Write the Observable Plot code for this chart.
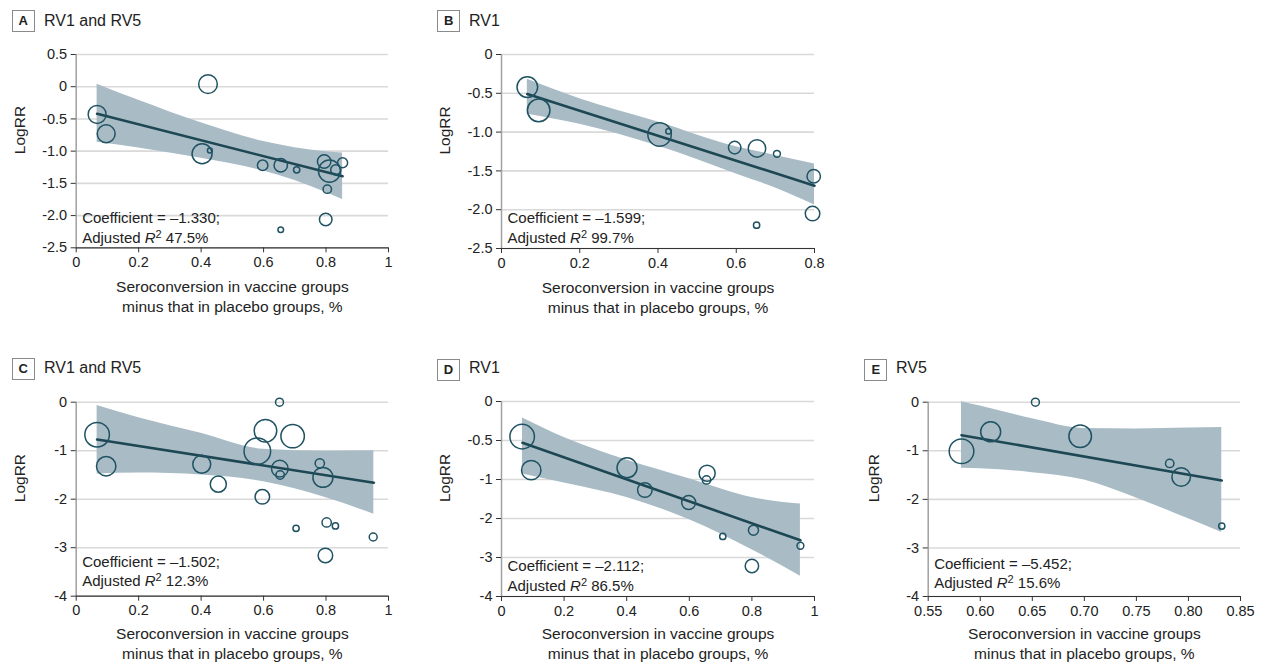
<!DOCTYPE html>
<html><head><meta charset="utf-8">
<script src="https://cdn.jsdelivr.net/npm/d3@7"></script>
<script src="https://cdn.jsdelivr.net/npm/@observablehq/plot@0.6"></script>
<style>
body{margin:0;background:#fff;width:1265px;height:669px;overflow:hidden;position:relative;font-family:"Liberation Sans",Arial,sans-serif;color:#222}
.panel{position:absolute}
.tag{position:absolute;width:21px;height:20px;border:1.3px solid #8a8a8a;font-weight:bold;font-size:13px;text-align:center;line-height:20px;color:#222}
.ttl{position:absolute;font-size:16px;color:#222;line-height:20px}
</style></head><body>
<script>
// ---------- data ----------
const panelIds = ["A","B","C","D","E"];
const panelTitles = ["RV1 and RV5","RV1","RV1 and RV5","RV1","RV5"];
const coefTexts = ["–1.330","–1.599","–1.502","–2.112","–5.452"];
const r2Texts = ["47.5%","99.7%","12.3%","86.5%","15.6%"];
const xTitleLines = ["Seroconversion in vaccine groups","minus that in placebo groups, %"];
const yTitle = "LogRR";

// Panel A
const aX = [0.067,0.096,0.422,0.403,0.428,0.597,0.655,0.706,0.794,0.811,0.831,0.853,0.804,0.799,0.655];
const aY = [-0.43,-0.73,0.04,-1.04,-0.99,-1.22,-1.22,-1.29,-1.16,-1.31,-1.29,-1.18,-1.59,-2.06,-2.22];
const aW = [41,41,44,51,3,14,23,5,23,62,13,13,9,20,4];
const aFitX = [0.067,0.853], aFitY = [-0.42,-1.39];
const aBandX = [0.067,0.2,0.4,0.6,0.8,0.853];
const aBandHi = [0.04,-0.21,-0.56,-0.85,-1.01,-1.03];
const aBandLo = [-0.86,-0.95,-1.11,-1.31,-1.64,-1.75];
const aXTicks = [0,0.2,0.4,0.6,0.8,1];
const aYTicks = [0.5,0,-0.5,-1,-1.5,-2,-2.5];

// Panel B
const bX = [0.066,0.095,0.404,0.427,0.596,0.653,0.704,0.798,0.795,0.652];
const bY = [-0.42,-0.72,-1.03,-0.99,-1.20,-1.21,-1.28,-1.57,-2.05,-2.20];
const bW = [54,65,70,4,20,39,6,23,27,5];
const bFitX = [0.066,0.8], bFitY = [-0.51,-1.69];
const bBandX = [0.066,0.2,0.4,0.6,0.7,0.8];
const bBandHi = [-0.32,-0.57,-0.87,-1.19,-1.30,-1.41];
const bBandLo = [-0.77,-0.90,-1.18,-1.54,-1.72,-1.94];
const bXTicks = [0,0.2,0.4,0.6,0.8];
const bYTicks = [0,-0.5,-1,-1.5,-2,-2.5];

// Panel C
const cX = [0.067,0.096,0.402,0.455,0.596,0.580,0.606,0.651,0.693,0.652,0.653,0.780,0.790,0.802,0.830,0.704,0.951,0.798];
const cY = [-0.67,-1.32,-1.28,-1.69,-1.95,-1.01,-0.59,0.00,-0.70,-1.37,-1.50,-1.26,-1.55,-2.48,-2.55,-2.60,-2.78,-3.16];
const cW = [77,48,41,33,27,90,65,8,70,35,9,11,51,11,5,5,8,27];
const cFitX = [0.067,0.953], cFitY = [-0.77,-1.66];
const cBandX = [0.067,0.2,0.4,0.6,0.8,0.953];
const cBandHi = [-0.07,-0.32,-0.64,-0.97,-1.01,-1.00];
const cBandLo = [-1.48,-1.46,-1.50,-1.64,-1.97,-2.31];
const cXTicks = [0,0.2,0.4,0.6,0.8,1];
const cYTicks = [0,-1,-2,-3,-4];

// Panel D (axis labelled 0, -0.5, -1, -2, -3, -4 at equal spacing)
const dX = [0.066,0.095,0.401,0.458,0.598,0.657,0.655,0.707,0.805,0.800,0.955];
const dY = [-0.45,-0.88,-0.85,-1.27,-1.59,-0.92,-1.01,-2.46,-2.30,-3.22,-2.70];
const dW = [77,48,51,27,25,33,9,5,13,23,6];
const dFitX = [0.067,0.955], dFitY = [-0.53,-2.56];
const dBandX = [0.067,0.2,0.4,0.6,0.8,0.955];
const dBandHi = [-0.21,-0.46,-0.75,-0.99,-1.46,-1.63];
const dBandLo = [-0.93,-1.09,-1.46,-2.03,-2.80,-3.48];
const dXTicks = [0,0.2,0.4,0.6,0.8,1];
const dYTicks = [0,-0.5,-1,-2,-3,-4];

// Panel E
const eX = [0.582,0.610,0.653,0.696,0.782,0.793,0.832];
const eY = [-1.01,-0.61,0.00,-0.70,-1.26,-1.54,-2.55];
const eW = [77,51,8,65,9,44,5];
const eFitX = [0.582,0.832], eFitY = [-0.68,-1.61];
const eBandX = [0.582,0.60,0.65,0.70,0.75,0.80,0.832];
const eBandHi = [0.01,-0.08,-0.34,-0.54,-0.55,-0.53,-0.52];
const eBandLo = [-1.36,-1.37,-1.45,-1.60,-1.97,-2.40,-2.68];
const eXTicks = [0.55,0.60,0.65,0.70,0.75,0.80,0.85];
const eYTicks = [0,-1,-2,-3,-4];

// ---------- styles ----------
const FONT = '"Liberation Sans",Arial,sans-serif';
const DOT = "#1f5262", FIT = "#1d4753", BAND = "#a9bcc6", GRID = "#d9d9d9", AXIS = "#333";

function statsMark(coef, r2, off) {
  return (index, scales, values, dims) => {
    const ns = "http://www.w3.org/2000/svg";
    const g = document.createElementNS(ns, "g");
    g.setAttribute("font-size", "15");
    g.setAttribute("fill", "#222");
    g.setAttribute("text-anchor", "start");
    const x = dims.marginLeft + 6.5;
    const yb = dims.height - dims.marginBottom;
    const t1 = document.createElementNS(ns, "text");
    t1.setAttribute("x", x); t1.setAttribute("y", yb - off); t1.setAttribute("dy", "0.35em");
    t1.textContent = "Coefficient = " + coef + ";";
    const t2 = document.createElementNS(ns, "text");
    t2.setAttribute("x", x); t2.setAttribute("y", yb - off + 19.5); t2.setAttribute("dy", "0.35em");
    const s1 = document.createElementNS(ns, "tspan"); s1.textContent = "Adjusted ";
    const s2 = document.createElementNS(ns, "tspan"); s2.textContent = "R"; s2.setAttribute("font-style", "italic");
    const s3 = document.createElementNS(ns, "tspan"); s3.textContent = "2"; s3.setAttribute("font-size", "11"); s3.setAttribute("dy", "-5");
    const s4 = document.createElementNS(ns, "tspan"); s4.textContent = " " + r2; s4.setAttribute("dy", "5");
    t2.append(s1, s2, s3, s4);
    g.append(t1, t2);
    return g;
  };
}

function makePanel(o) {
  const pts = o.xs.map((x, i) => ({x, y: o.ys[i], w: o.ws[i]}));
  const band = o.bandX.map((x, i) => ({x, lo: o.bandLo[i], hi: o.bandHi[i]}));
  const fit = o.fitX.map((x, i) => ({x, y: o.fitY[i]}));
  const H = o.height, mt = o.mt, mb = o.mb;
  const ph = H - mt - mb;
  const yScale = o.piecewise
    ? {type: "linear", domain: o.yTicks, range: o.yTicks.map((_, i) => mt + i * ph / (o.yTicks.length - 1))}
    : {type: "linear", domain: [d3.min(o.yTicks), d3.max(o.yTicks)]};
  const xMin = d3.min(o.xTicks), xMax = d3.max(o.xTicks);
  const yMin = d3.min(o.yTicks);
  return Plot.plot({
    width: o.width, height: H,
    marginLeft: o.ml, marginRight: o.mr, marginTop: mt, marginBottom: mb,
    x: {type: "linear", domain: [xMin, xMax]},
    y: yScale,
    r: {type: "sqrt", domain: [0, 100], range: [0, 14]},
    style: {fontFamily: FONT, fontSize: "14.5px", color: "#222", background: "transparent", overflow: "visible"},
    marks: [
      Plot.gridY(o.yTicks, {stroke: GRID, strokeOpacity: 1, strokeWidth: 1.6}),
      Plot.ruleX([xMin], {stroke: "#a0a0a0", strokeWidth: 1.5}),
      Plot.ruleY([yMin], {stroke: AXIS, strokeWidth: 1.2}),
      Plot.axisY({ticks: o.yTicks, tickFormat: o.yFmt, tickSize: 5, tickPadding: 4, stroke: AXIS, label: null, fontSize: 14.5}),
      Plot.axisX({ticks: o.xTicks, tickFormat: o.xFmt, tickSize: 5, tickPadding: 4, stroke: AXIS, label: null, fontSize: 14.5}),
      Plot.areaY(band, {x: "x", y1: "lo", y2: "hi", fill: BAND, fillOpacity: 1, curve: "monotone-x"}),
      Plot.line(fit, {x: "x", y: "y", stroke: FIT, strokeWidth: 2.6}),
      Plot.dot(pts, {x: "x", y: "y", r: "w", stroke: DOT, strokeWidth: 1.5, fill: "none"}),
      Plot.text([yTitle], {text: d => d, frameAnchor: "left", rotate: -90, dx: o.ylx, dy: 3, fontSize: 15.5}),
      Plot.text([xTitleLines[0]], {text: d => d, frameAnchor: "bottom", dy: o.xt, fontSize: 15.5}),
      Plot.text([xTitleLines[1]], {text: d => d, frameAnchor: "bottom", dy: o.xt + 20, fontSize: 15.5}),
      statsMark(o.coef, o.r2, o.statOff)
    ]
  });
}

const fmt1 = d => d === 0 ? "0" : d.toFixed(1);
const fmtP = d => String(d);
const fmt2 = d => d.toFixed(2);

const layouts = [
  {left: 0,   top: 40,  width: 420, height: 290, ml: 75.7, mr: 32, mt: 14,   mb: 82.7, ylx: -55.7, xt: 44, statOff: 29.5,
   tag: [11.7, 10], ttl: [44, 11]},
  {left: 420, top: 40,  width: 420, height: 290, ml: 81,   mr: 26, mt: 14,   mb: 82,   ylx: -56, xt: 44, statOff: 30,
   tag: [437.3, 10], ttl: [469, 11]},
  {left: 0,   top: 385, width: 420, height: 284, ml: 75.7, mr: 32, mt: 16.7, mb: 73.3, ylx: -55.7, xt: 42.6, statOff: 34,
   tag: [11.7, 358], ttl: [44, 358]},
  {left: 420, top: 385, width: 420, height: 284, ml: 81,   mr: 26, mt: 16,   mb: 73,   ylx: -56, xt: 42.6, statOff: 30,
   tag: [437, 359], ttl: [469, 358]},
  {left: 840, top: 385, width: 425, height: 284, ml: 87.7, mr: 25, mt: 16.7, mb: 73,   ylx: -54.4, xt: 42.6, statOff: 32.7,
   tag: [864.3, 359], ttl: [896, 358]}
];
const dataSets = [
  {xs: aX, ys: aY, ws: aW, fitX: aFitX, fitY: aFitY, bandX: aBandX, bandHi: aBandHi, bandLo: aBandLo, xTicks: aXTicks, yTicks: aYTicks, xFmt: fmtP, yFmt: fmt1},
  {xs: bX, ys: bY, ws: bW, fitX: bFitX, fitY: bFitY, bandX: bBandX, bandHi: bBandHi, bandLo: bBandLo, xTicks: bXTicks, yTicks: bYTicks, xFmt: fmtP, yFmt: fmt1},
  {xs: cX, ys: cY, ws: cW, fitX: cFitX, fitY: cFitY, bandX: cBandX, bandHi: cBandHi, bandLo: cBandLo, xTicks: cXTicks, yTicks: cYTicks, xFmt: fmtP, yFmt: fmtP},
  {xs: dX, ys: dY, ws: dW, fitX: dFitX, fitY: dFitY, bandX: dBandX, bandHi: dBandHi, bandLo: dBandLo, xTicks: dXTicks, yTicks: dYTicks, xFmt: fmtP, yFmt: fmtP, piecewise: true},
  {xs: eX, ys: eY, ws: eW, fitX: eFitX, fitY: eFitY, bandX: eBandX, bandHi: eBandHi, bandLo: eBandLo, xTicks: eXTicks, yTicks: eYTicks, xFmt: fmt2, yFmt: fmtP}
];

layouts.forEach((L, i) => {
  const o = Object.assign({}, L, dataSets[i], {coef: coefTexts[i], r2: r2Texts[i]});
  const wrap = document.createElement("div");
  wrap.className = "panel";
  wrap.style.left = L.left + "px"; wrap.style.top = L.top + "px";
  wrap.appendChild(makePanel(o));
  document.body.appendChild(wrap);
  const tag = document.createElement("div");
  tag.className = "tag"; tag.textContent = panelIds[i];
  tag.style.left = L.tag[0] + "px"; tag.style.top = L.tag[1] + "px";
  document.body.appendChild(tag);
  const ttl = document.createElement("div");
  ttl.className = "ttl"; ttl.textContent = panelTitles[i];
  ttl.style.left = L.ttl[0] + "px"; ttl.style.top = L.ttl[1] + "px";
  document.body.appendChild(ttl);
});
</script>
</body></html>
